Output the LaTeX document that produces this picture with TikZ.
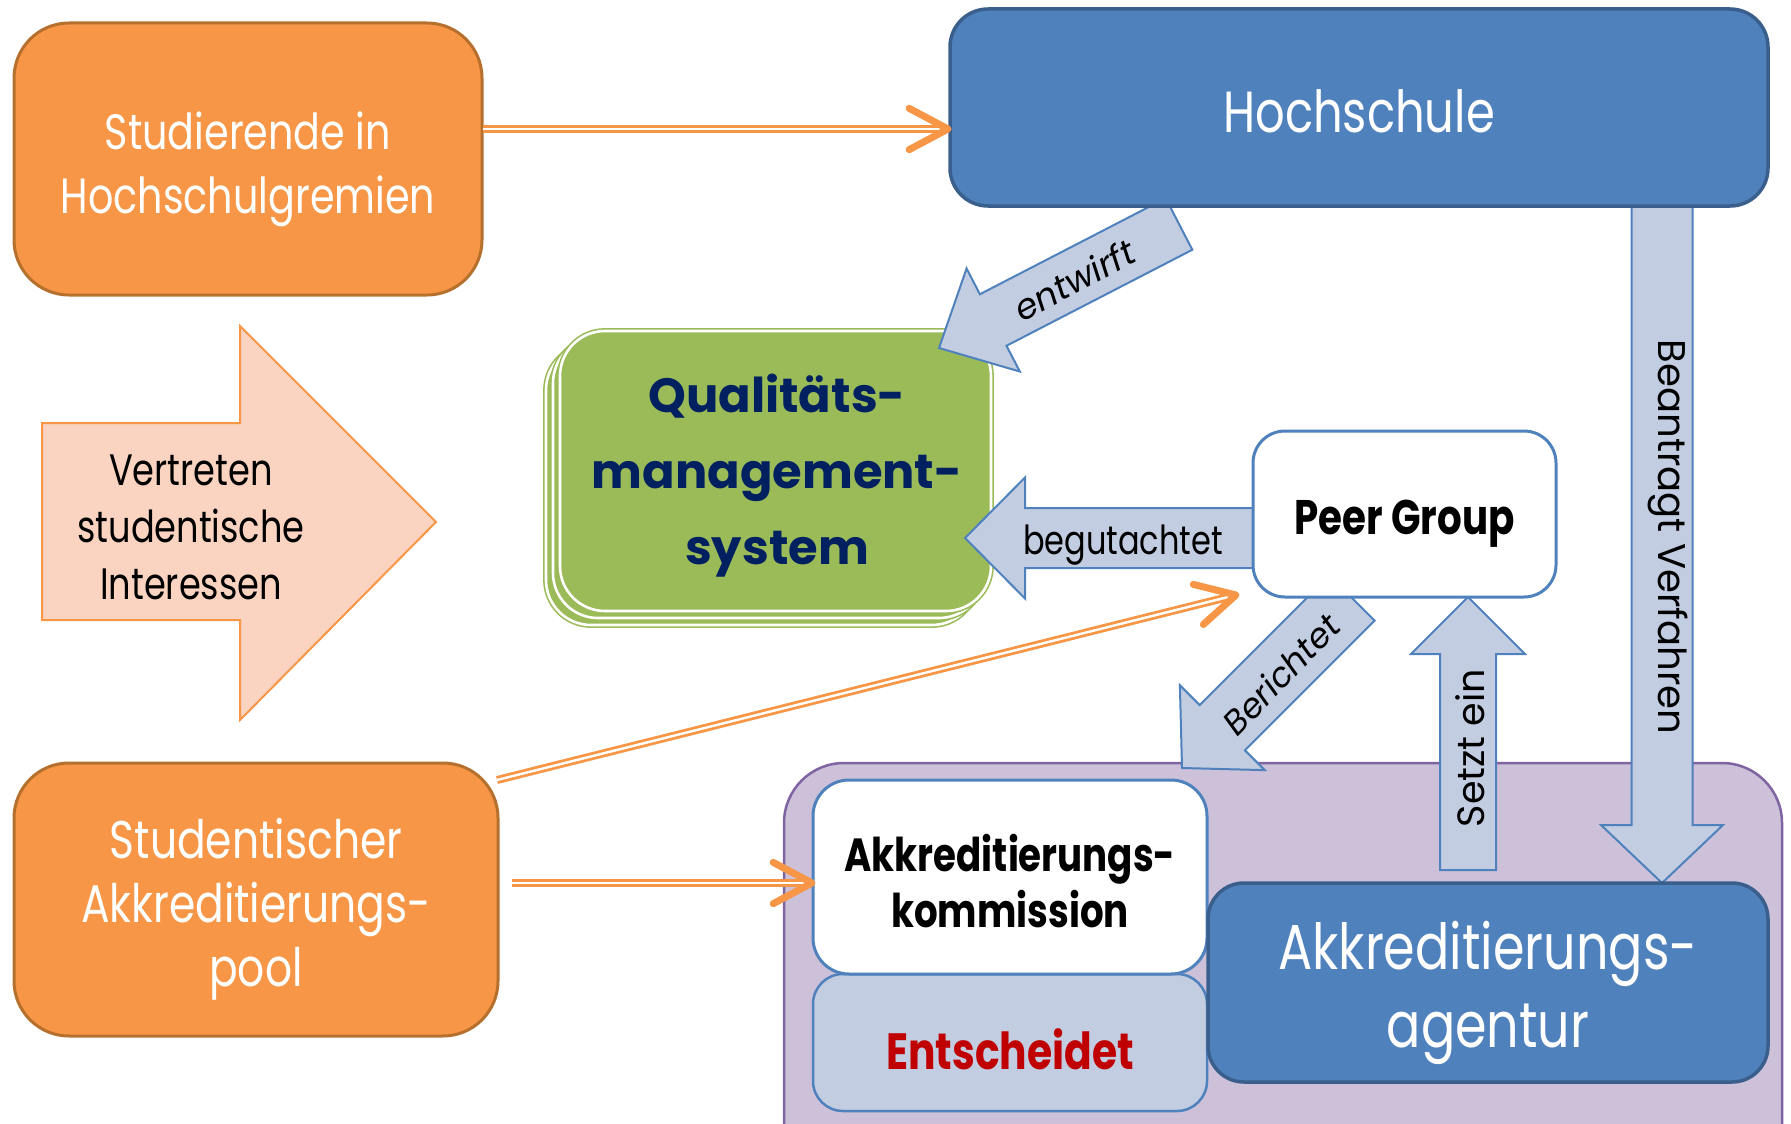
\documentclass[tikz,border=0pt]{standalone}
\usepackage{fontspec}
\setmainfont{Poppins}
\newfontfamily\tw[FakeStretch=0.8]{Poppins}
\usetikzlibrary{calc}
\definecolor{orF}{HTML}{F79646}
\definecolor{orD}{HTML}{B6702E}
\definecolor{blF}{HTML}{4F81BD}
\definecolor{blD}{HTML}{3A5F8C}
\definecolor{lbF}{HTML}{C2CDE2}
\definecolor{lbD}{HTML}{4F81BD}
\definecolor{pkF}{HTML}{FAD4C0}
\definecolor{grF}{HTML}{9BBB59}
\definecolor{puF}{HTML}{CCC1D9}
\definecolor{puD}{HTML}{8064A2}
\definecolor{navy}{HTML}{002060}
\definecolor{dred}{HTML}{C00000}
\newcommand\fs[2]{\fontsize{#1}{#2}\selectfont}
% block arrow: style, tail, tip, half body width, half head width, head length
\newcommand\blockarr[6]{%
  \coordinate (ba-c) at ($(#3)!#6!(#2)$);
  \path[#1] ($(#2)!#4!90:(#3)$) -- ($(ba-c)!#4!90:(#3)$) -- ($(ba-c)!#5!90:(#3)$) -- (#3)
    -- ($(ba-c)!#5!-90:(#3)$) -- ($(ba-c)!#4!-90:(#3)$) -- ($(#2)!#4!-90:(#3)$) -- cycle;}
% chevron tip: from, tip
\newcommand\chev[2]{\draw[chevron] ($(#2)!44pt!28:(#1)$) -- (#2) -- ($(#2)!44pt!-28:(#1)$);}
\begin{document}
\begin{tikzpicture}[x=1pt,y=-1pt,
  obox/.style={rectangle, rounded corners=55pt, fill=orF, draw=orD, line width=3pt, inner sep=0pt},
  hsbox/.style={rectangle, rounded corners=38pt, fill=blF, draw=blD, line width=3.5pt, inner sep=0pt},
  wbox/.style={rectangle, rounded corners=32pt, fill=white, draw=blF, line width=3pt, inner sep=0pt},
  lbox/.style={rectangle, rounded corners=30pt, fill=lbF, draw=blF, line width=2.5pt, inner sep=0pt},
  grn/.style={rectangle, rounded corners=45pt, fill=grF, draw=grF, line width=1.6pt, double=white, double distance=2.6pt, inner sep=0pt},
  barrow/.style={fill=lbF, draw=lbD, line width=2pt, line join=miter},
  dbl/.style={draw=orF, line width=2.8pt, double=white, double distance=2.4pt},
  chevron/.style={draw=orF, line width=7pt, line cap=round, line join=round},
  lbl/.style={inner sep=0pt, text=black, align=center},
  wlbl/.style={inner sep=0pt, text=white, align=center}]
\useasboundingbox (0,0) rectangle (1791,1124);
\clip (0,0) rectangle (1791,1124);

% purple container
\path[fill=puF, draw=puD, line width=2.5pt, rounded corners=60pt] (784,763) rectangle (1782,1190);

% green stacked box
\path[grn] (546,345) rectangle (977,625);
\path[grn] (553,338) rectangle (984,618);
\node[grn, minimum width=431pt, minimum height=280pt] (qms) at (775.5,471) {};
\node[lbl, text=navy, font=\bfseries\fs{48}{76}] (qms-t) at (777,476) {Qualitäts-\\management-\\system};

% block arrows
\coordinate (ew-t) at (1179,224); \coordinate (ew-h) at (939,348);
\blockarr{barrow}{ew-t}{ew-h}{29pt}{58pt}{61pt}
\node[lbl, rotate=27.9, font=\itshape\fs{35}{40}] (ew-l) at (1074,280) {entwirft};

\coordinate (bg-t) at (1260,538); \coordinate (bg-h) at (965,538);
\blockarr{barrow}{bg-t}{bg-h}{30pt}{60.5pt}{60pt}
\node[lbl, font=\tw\fs{40}{44}] (bg-l) at (1123,545) {begutachtet};

\coordinate (br-t) at (1352,598); \coordinate (br-h) at (1182,768);
\blockarr{barrow}{br-t}{br-h}{32pt}{60pt}{57pt}
\node[lbl, rotate=46, font=\itshape\fs{34}{40}] (br-l) at (1281,674) {Berichtet};

\coordinate (se-t) at (1468,870); \coordinate (se-h) at (1468,597);
\blockarr{barrow}{se-t}{se-h}{28pt}{57pt}{57pt}
\node[lbl, rotate=90, font=\fs{38}{42}] (se-l) at (1470,748) {Setzt ein};

\coordinate (bv-t) at (1662,200); \coordinate (bv-h) at (1662,883);
\blockarr{barrow}{bv-t}{bv-h}{30.5pt}{61pt}{58pt}
\node[lbl, rotate=-90, font=\fs{38.6}{44}] (bv-l) at (1668,537) {Beantragt Verfahren};

% boxes
\node[hsbox, minimum width=818pt, minimum height=197pt] (hs) at (1359,107.5) {};
\node[wlbl, font=\tw\fs{58}{62}] (hs-t) at (1359,111) {Hochschule};

\node[wbox, minimum width=303pt, minimum height=166pt] (peer) at (1404.5,514) {};
\node[lbl, font=\tw\bfseries\fs{48.5}{52}] (peer-t) at (1404.5,524) {Peer Group};

\node[lbox, minimum width=394pt, minimum height=137pt] (ent) at (1010,1042.5) {};
\node[lbl, text=dred, font=\tw\bfseries\fs{51}{56}] (ent-t) at (1010,1049) {Entscheidet};

\node[wbox, rounded corners=36pt, minimum width=394pt, minimum height=194pt] (komm) at (1010,877) {};
\node[lbl, font=\tw\bfseries\fs{46.5}{56}] (komm-t) at (1010,881) {Akkreditierungs-\\kommission};

\node[hsbox, rounded corners=36pt, minimum width=560pt, minimum height=199pt] (ag) at (1488,982.5) {};
\node[wlbl, font=\tw\fs{63.5}{78}] (ag-t) at (1488,993) {Akkreditierungs-\\agentur};

\node[obox, minimum width=468pt, minimum height=272pt] (stud) at (248,159) {};
\node[wlbl, font=\tw\fs{49.6}{64}] (stud-t) at (248,169) {Studierende in\\Hochschulgremien};

\node[obox, minimum width=484pt, minimum height=273pt] (pool) at (256,899.5) {};
\node[wlbl, font=\tw\fs{53}{64}] (pool-t) at (256,909) {Studentischer\\Akkreditierungs-\\pool};

% pink arrow
\path[fill=pkF, draw=orF, line width=2pt, line join=miter] (42,423) -- (240,423) -- (240,326) -- (436,522) -- (240,720) -- (240,620) -- (42,620) -- cycle;
\node[lbl, font=\tw\fs{44}{57}] (pk-l) at (191,527) {Vertreten\\studentische\\Interessen};

% orange double arrows
\coordinate (o1s) at (483,129); \coordinate (o1e) at (948,129);
\draw[dbl, shorten >=5pt] (o1s) -- (o1e); \chev{o1s}{o1e}
\coordinate (o2s) at (497,780); \coordinate (o2e) at (1236,595);
\draw[dbl, shorten >=5pt] (o2s) -- (o2e); \chev{o2s}{o2e}
\coordinate (o3s) at (512,883); \coordinate (o3e) at (812,883);
\draw[dbl, shorten >=5pt] (o3s) -- (o3e); \chev{o3s}{o3e}
\end{tikzpicture}
\end{document}
